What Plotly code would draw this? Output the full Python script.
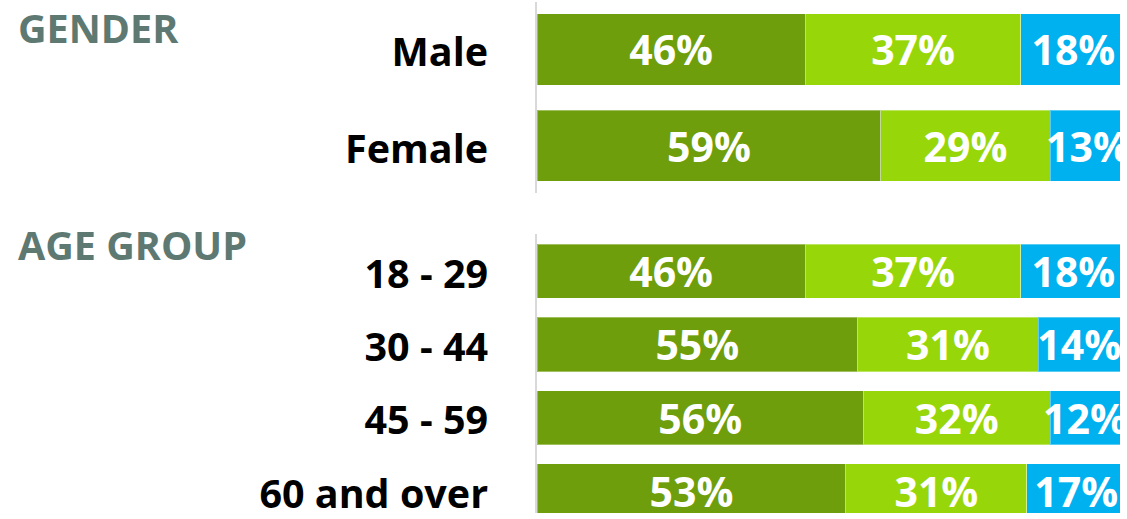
import plotly.graph_objects as go

# ---- data ----
gender_cats = ["Male", "Female"]
gender_dark = [46, 59]
gender_light = [37, 29]
gender_blue = [18, 13]

age_cats = ["18 - 29", "30 - 44", "45 - 59", "60 and over"]
age_dark = [46, 55, 56, 53]
age_light = [37, 31, 32, 31]
age_blue = [18, 14, 12, 17]

section_titles = ["GENDER", "AGE GROUP"]

# ---- style ----
DARK = "#6E9E0B"
LIGHT = "#97D70A"
BLUE = "#00B1EF"
HEAD = "#5E7872"
FONT = "Open Sans"
W, H = 1127, 519

fig = go.Figure()

def add_group(cats, series, yaxis):
    for vals, col in zip(series, [DARK, LIGHT, BLUE]):
        fig.add_trace(go.Bar(
            y=cats, x=vals, orientation="h", yaxis=yaxis, xaxis="x" if yaxis == "y" else "x2",
            marker=dict(color=col, line=dict(color="rgba(255,255,255,0.35)", width=1)),
            width=0.74,
            texttemplate="%{x}%", textposition="inside", insidetextanchor="middle",
            constraintext="none",
            textfont=dict(family=FONT, size=41, color="white", weight="bold"),
            hoverinfo="skip", showlegend=False, cliponaxis=True,
        ))

add_group(gender_cats, [gender_dark, gender_light, gender_blue], "y")
add_group(age_cats, [age_dark, age_light, age_blue], "y2")

xdom = [537 / W, 1120 / W]
xcommon = dict(domain=xdom, range=[0, 100], showgrid=False, zeroline=False,
               showticklabels=False, fixedrange=True)

ycommon = dict(type="category", showgrid=False, zeroline=False, showline=True,
               linecolor="#D9D9D9", linewidth=2, ticks="", ticklabelstandoff=39,
               ticklabelshift=-3, fixedrange=True,
               tickfont=dict(family=FONT, size=39.5, color="black", weight="bold"))

fig.update_layout(
    width=W, height=H,
    margin=dict(l=0, r=0, t=0, b=0),
    paper_bgcolor="white", plot_bgcolor="white",
    barmode="stack",
    xaxis=dict(**xcommon, anchor="y"),
    xaxis2=dict(**xcommon, anchor="y2"),
    yaxis=dict(**ycommon, anchor="x", domain=[1 - 195 / H, 1 - 2 / H],
               categoryarray=gender_cats, range=[1.487, -0.492]),
    yaxis2=dict(**ycommon, anchor="x2", domain=[0, 1 - 237 / H],
                categoryarray=age_cats, range=[3.304, -0.507]),
)

for title, ytop in zip(section_titles, [0, 220]):
    fig.add_annotation(
        text=title, xref="paper", yref="paper", x=17 / W, y=1 - ytop / H,
        xanchor="left", yanchor="top", showarrow=False, borderpad=0,
        font=dict(family=FONT, size=39.5, color=HEAD, weight="bold"),
    )

fig.write_html("out.html", config={"displayModeBar": False},
               post_script="document.body.style.margin='0';")
